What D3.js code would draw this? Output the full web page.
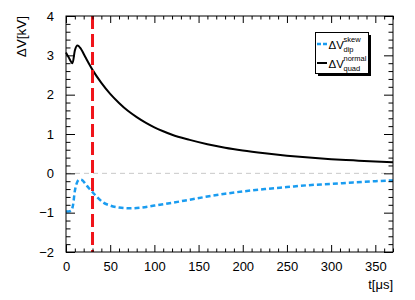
<!DOCTYPE html>
<html><head><meta charset="utf-8">
<script src="https://cdn.jsdelivr.net/npm/d3@7"></script>
<style>body{margin:0;background:#fff}svg{display:block;font-family:"Liberation Sans",Arial,sans-serif}</style>
</head><body><svg id="c" width="415" height="300"></svg>
<script>
const tNormal = [0,3,7.4,10,13,17,22,30,40,50,60,70,80,90,100,110,120,140,160,180,200,225,250,275,300,325,350,370];
const vNormal = [3.07,2.95,2.80,3.12,3.25,3.16,2.95,2.63,2.30,2.02,1.79,1.59,1.43,1.29,1.17,1.07,0.98,0.85,0.74,0.65,0.58,0.51,0.45,0.40,0.36,0.33,0.30,0.28];
const tSkew = [0,3,6,8,10,12,15,18,22,26,30,35,42,50,60,72,85,100,120,140,160,180,200,225,250,275,300,325,350,370];
const vSkew = [-0.97,-0.97,-0.95,-0.80,-0.45,-0.26,-0.16,-0.17,-0.27,-0.38,-0.48,-0.60,-0.74,-0.82,-0.87,-0.89,-0.87,-0.82,-0.75,-0.67,-0.59,-0.52,-0.46,-0.40,-0.35,-0.30,-0.27,-0.23,-0.20,-0.18];
const xTicks = [0,50,100,150,200,250,300,350];
const yTicks = [-2,-1,0,1,2,3,4];
const markerT = 30;

const svg = d3.select("#c");
const L=66, R=393, T=16, B=252;
const x = d3.scaleLinear().domain([0,370]).range([L,R]);
const y = d3.scaleLinear().domain([-2,4]).range([B,T]);

svg.append("line").attr("x1",L).attr("x2",R).attr("y1",y(0)).attr("y2",y(0))
  .attr("stroke","#c8c8c8").attr("stroke-width",1).attr("stroke-dasharray","5,4");

const line = d3.line().x(d=>x(d[0])).y(d=>y(d[1])).curve(d3.curveMonotoneX);
const normal = tNormal.map((t,i)=>[t,vNormal[i]]);
const skew = tSkew.map((t,i)=>[t,vSkew[i]]);

svg.append("path").attr("d",line(skew)).attr("fill","none").attr("stroke","#1a9cf0")
  .attr("stroke-width",2.5).attr("stroke-dasharray","5,3");
svg.append("path").attr("d",line(normal)).attr("fill","none").attr("stroke","#000")
  .attr("stroke-width",2);

svg.append("line").attr("x1",x(markerT)).attr("x2",x(markerT)).attr("y1",T).attr("y2",B)
  .attr("stroke","#f0141a").attr("stroke-width",3).attr("stroke-dasharray","13,5");

const minorX = d3.range(0,371,10).filter(v=>v%50!==0);
const minorY = d3.range(-2,4.001,0.2).map(v=>+v.toFixed(1)).filter(v=>Math.abs(v-Math.round(v))>1e-6);
const fmt = d=> d<0 ? "\u2212"+Math.abs(d) : String(d);

function styleAxis(g){ g.selectAll("path").remove(); g.selectAll("line").attr("stroke","#000"); g.selectAll("text").attr("font-size",13).attr("fill","#000").attr("font-family","Liberation Sans, Arial, sans-serif"); }

const gb = svg.append("g").attr("transform",`translate(0,${B})`)
  .call(d3.axisBottom(x).tickValues(xTicks).tickSize(-7).tickPadding(10).tickFormat(fmt));
styleAxis(gb);
const gbm = svg.append("g").attr("transform",`translate(0,${B})`)
  .call(d3.axisBottom(x).tickValues(minorX).tickSize(-3.5).tickFormat(""));
styleAxis(gbm);
const gt = svg.append("g").attr("transform",`translate(0,${T})`)
  .call(d3.axisTop(x).tickValues(xTicks).tickSize(-7).tickFormat(""));
styleAxis(gt);
const gtm = svg.append("g").attr("transform",`translate(0,${T})`)
  .call(d3.axisTop(x).tickValues(minorX).tickSize(-3.5).tickFormat(""));
styleAxis(gtm);

const gl = svg.append("g").attr("transform",`translate(${L},0)`)
  .call(d3.axisLeft(y).tickValues(yTicks).tickSize(-9).tickPadding(12).tickFormat(fmt));
styleAxis(gl);
const glm = svg.append("g").attr("transform",`translate(${L},0)`)
  .call(d3.axisLeft(y).tickValues(minorY).tickSize(-4.5).tickFormat(""));
styleAxis(glm);
const gr = svg.append("g").attr("transform",`translate(${R},0)`)
  .call(d3.axisRight(y).tickValues(yTicks).tickSize(-9).tickFormat(""));
styleAxis(gr);
const grm = svg.append("g").attr("transform",`translate(${R},0)`)
  .call(d3.axisRight(y).tickValues(minorY).tickSize(-4.5).tickFormat(""));
styleAxis(grm);

svg.append("rect").attr("x",L).attr("y",T).attr("width",R-L).attr("height",B-T)
  .attr("fill","none").attr("stroke","#000").attr("stroke-width",1);

svg.append("text").attr("transform",`translate(26,${T}) rotate(-90)`).attr("text-anchor","end")
  .attr("font-size",13.5).text("ΔV[kV]");
svg.append("text").attr("x",R).attr("y",289).attr("text-anchor","end").attr("font-size",13).text("t[μs]");

const lg = svg.append("g");
lg.append("rect").attr("x",318).attr("y",35).attr("width",53).attr("height",41).attr("fill","#000");
lg.append("rect").attr("x",315.5).attr("y",32.5).attr("width",53).attr("height",41).attr("fill","#fff").attr("stroke","#000").attr("stroke-width",1);
lg.append("line").attr("x1",317).attr("x2",327).attr("y1",44).attr("y2",44).attr("stroke","#1a9cf0").attr("stroke-width",2.5).attr("stroke-dasharray","4,2");
lg.append("line").attr("x1",317).attr("x2",327).attr("y1",63).attr("y2",63).attr("stroke","#000").attr("stroke-width",2);
function entry(yb, sup, sub){
  const t = lg.append("text").attr("x",328.5).attr("y",yb).attr("font-size",11.5);
  t.append("tspan").text("ΔV");
  const g2 = lg.append("text").attr("font-size",7.5);
  g2.append("tspan").attr("x",343.5).attr("y",yb-7).text(sup);
  g2.append("tspan").attr("x",343.5).attr("y",yb+3).text(sub);
}
entry(48.5,"skew","dip");
entry(67.5,"normal","quad");
</script></body></html>
